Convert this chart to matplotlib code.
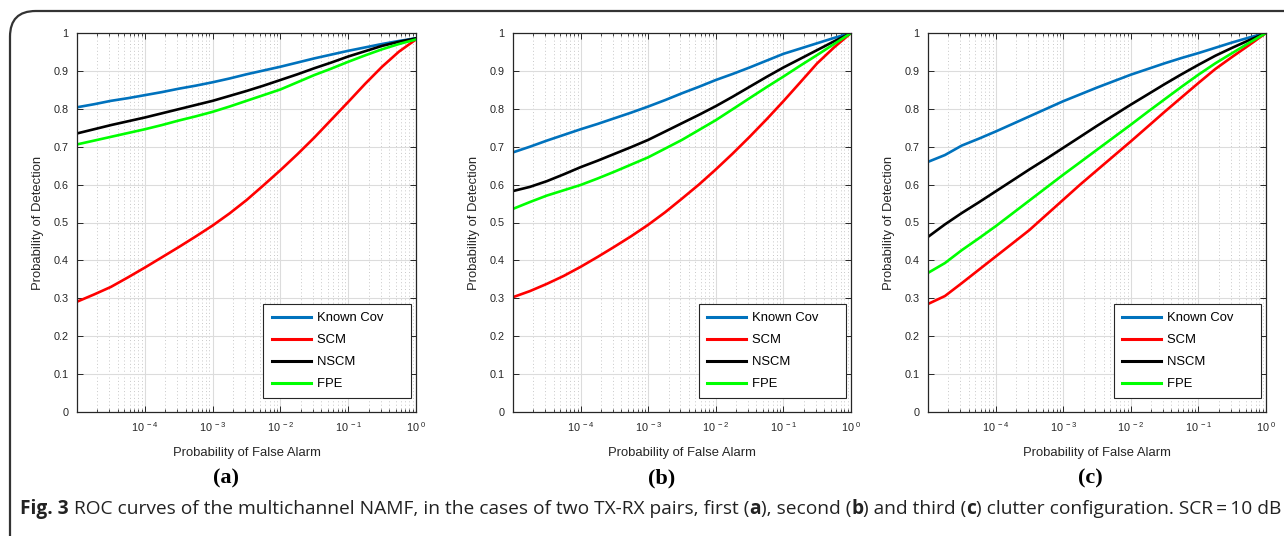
import matplotlib
matplotlib.use("Agg")
import matplotlib.pyplot as plt
from matplotlib.patches import FancyBboxPatch
from matplotlib.ticker import FixedLocator, LogLocator, NullFormatter

# false alarm probabilities (quarter-decade steps from 1e-5 to 1)
pfa = [1e-5, 1.78e-5, 3.16e-5, 5.62e-5,
       1e-4, 1.78e-4, 3.16e-4, 5.62e-4,
       1e-3, 1.78e-3, 3.16e-3, 5.62e-3,
       1e-2, 1.78e-2, 3.16e-2, 5.62e-2,
       1e-1, 1.78e-1, 3.16e-1, 5.62e-1,
       1.0]

# (a) first clutter configuration
known_a = [0.804, 0.812, 0.821, 0.828, 0.836, 0.844, 0.853, 0.861, 0.870, 0.880, 0.891,
           0.901, 0.911, 0.922, 0.933, 0.943, 0.953, 0.962, 0.971, 0.979, 0.986]
scm_a = [0.291, 0.310, 0.330, 0.355, 0.381, 0.408, 0.435, 0.463, 0.492, 0.524, 0.559,
         0.598, 0.638, 0.680, 0.724, 0.771, 0.818, 0.866, 0.911, 0.951, 0.983]
nscm_a = [0.735, 0.746, 0.757, 0.767, 0.777, 0.788, 0.799, 0.810, 0.821, 0.834, 0.847,
          0.861, 0.876, 0.891, 0.907, 0.922, 0.938, 0.952, 0.966, 0.977, 0.986]
fpe_a = [0.706, 0.716, 0.726, 0.736, 0.746, 0.757, 0.769, 0.780, 0.792, 0.806, 0.821,
         0.836, 0.851, 0.870, 0.889, 0.906, 0.924, 0.941, 0.957, 0.971, 0.983]

# (b) second clutter configuration
known_b = [0.685, 0.700, 0.716, 0.731, 0.746, 0.760, 0.775, 0.790, 0.806, 0.823, 0.841,
           0.858, 0.876, 0.892, 0.909, 0.927, 0.945, 0.959, 0.973, 0.987, 1.0]
scm_b = [0.303, 0.319, 0.338, 0.359, 0.383, 0.409, 0.436, 0.464, 0.494, 0.527, 0.563,
         0.600, 0.640, 0.682, 0.726, 0.772, 0.820, 0.870, 0.920, 0.962, 1.0]
nscm_b = [0.583, 0.594, 0.609, 0.627, 0.646, 0.663, 0.681, 0.699, 0.718, 0.740, 0.762,
          0.784, 0.807, 0.832, 0.858, 0.884, 0.909, 0.932, 0.955, 0.978, 1.0]
fpe_b = [0.536, 0.554, 0.571, 0.585, 0.599, 0.616, 0.634, 0.653, 0.672, 0.695, 0.718,
         0.744, 0.770, 0.799, 0.828, 0.857, 0.885, 0.914, 0.942, 0.971, 1.0]

# (c) third clutter configuration
known_c = [0.660, 0.678, 0.703, 0.721, 0.740, 0.760, 0.780, 0.800, 0.820, 0.838, 0.856,
           0.873, 0.890, 0.905, 0.920, 0.934, 0.947, 0.961, 0.975, 0.988, 1.0]
scm_c = [0.285, 0.306, 0.340, 0.375, 0.410, 0.445, 0.480, 0.520, 0.560, 0.600, 0.638,
         0.676, 0.714, 0.753, 0.792, 0.830, 0.868, 0.905, 0.937, 0.968, 1.0]
nscm_c = [0.462, 0.495, 0.525, 0.553, 0.582, 0.611, 0.640, 0.668, 0.697, 0.726, 0.755,
          0.783, 0.811, 0.838, 0.865, 0.891, 0.916, 0.940, 0.961, 0.981, 1.0]
fpe_c = [0.367, 0.393, 0.427, 0.458, 0.490, 0.524, 0.558, 0.592, 0.626, 0.659, 0.692,
         0.725, 0.758, 0.792, 0.825, 0.858, 0.890, 0.920, 0.947, 0.974, 1.0]

series_names = ["Known Cov", "SCM", "NSCM", "FPE"]
series_colors = ["#0072bd", "#ff0000", "#000000", "#00ff00"]
panel_tags = ["(a)", "(b)", "(c)"]

x_ticks = [1e-4, 1e-3, 1e-2, 1e-1, 1e0]
x_tick_labels = [r"$10^{\ -4}$", r"$10^{\ -3}$", r"$10^{\ -2}$", r"$10^{\ -1}$", r"$10^{\ 0}$"]
y_ticks = [0, 0.1, 0.2, 0.3, 0.4, 0.5, 0.6, 0.7, 0.8, 0.9, 1.0]
y_tick_labels = ["0", "0.1", "0.2", "0.3", "0.4", "0.5", "0.6", "0.7", "0.8", "0.9", "1"]

# caption pieces: (text, bold)
caption_parts = [
    ("Fig. 3", True),
    (" ROC curves of the multichannel NAMF, in the cases of two TX-RX pairs, first (", False),
    ("a", True),
    ("), second (", False),
    ("b", True),
    (") and third (", False),
    ("c", True),
    (") clutter configuration. SCR\u2009=\u200910 dB", False),
]

W, H = 1284, 536
AX_COLOR = "#262626"
LABEL_SIZE = 9.4


def px_rect(left, top, right, bottom):
    return [left / W, 1 - bottom / H, (right - left) / W, (bottom - top) / H]


def draw_panel(ax, curves):
    for vals, name, color in zip(curves, series_names, series_colors):
        # trailing spaces leave the roomy right margin of the legend box
        ax.plot(pfa, vals, color=color, lw=1.9, label=name + "\u2003\u2002")

    ax.set_xscale("log")
    ax.set_xlim(1e-5, 1)
    ax.set_ylim(0, 1)
    ax.xaxis.set_major_locator(FixedLocator(x_ticks))
    ax.set_xticklabels(x_tick_labels)
    ax.xaxis.set_minor_locator(LogLocator(base=10, subs=range(2, 10), numticks=20))
    ax.xaxis.set_minor_formatter(NullFormatter())
    ax.set_yticks(y_ticks)
    ax.set_yticklabels(y_tick_labels)

    ax.grid(True, which="major", color="#dcdcdc", lw=0.8, ls="-")
    ax.grid(True, which="minor", axis="x", color="#c8c8c8", lw=0.7, ls=(0, (1, 2.5)))
    ax.set_axisbelow(True)

    ax.tick_params(which="both", direction="in", top=True, right=True,
                   colors=AX_COLOR, labelsize=7.8, labelcolor=AX_COLOR)
    ax.tick_params(which="major", length=4, width=0.7)
    ax.tick_params(which="minor", length=2.3, width=0.6)
    ax.tick_params(axis="x", pad=6)
    ax.tick_params(axis="y", pad=6)
    for sp in ax.spines.values():
        sp.set_color(AX_COLOR)
        sp.set_linewidth(0.9)

    ax.set_xlabel("Probability of False Alarm", fontsize=LABEL_SIZE, color=AX_COLOR, labelpad=9)
    ax.set_ylabel("Probability of Detection", fontsize=LABEL_SIZE, color=AX_COLOR, labelpad=7)

    leg = ax.legend(loc="lower right", bbox_to_anchor=(0.986, 0.036), fontsize=LABEL_SIZE,
                    handlelength=3.0, labelspacing=0.75, handletextpad=0.5,
                    borderpad=0.62, borderaxespad=0, fancybox=False, framealpha=1)
    leg.get_frame().set_edgecolor(AX_COLOR)
    leg.get_frame().set_linewidth(0.8)
    for line in leg.get_lines():
        line.set_linewidth(2.2)


def draw_caption(fig, x_px, y_px, size):
    fig.canvas.draw()
    renderer = fig.canvas.get_renderer()
    x = x_px
    for text, bold in caption_parts:
        t = fig.text(x / W, 1 - y_px / H, text, family=["Open Sans", "DejaVu Sans"],
                     weight="bold" if bold else "normal", fontsize=size,
                     ha="left", va="center", color="#222222")
        x = t.get_window_extent(renderer).x1


def main():
    plt.rcParams["font.family"] = ["Liberation Sans", "DejaVu Sans"]
    plt.rcParams["mathtext.fontset"] = "custom"
    plt.rcParams["mathtext.rm"] = "Liberation Sans"
    plt.rcParams["mathtext.it"] = "Liberation Sans"
    plt.rcParams["mathtext.default"] = "regular"

    fig = plt.figure(figsize=(W / 100, H / 100), dpi=100)

    frame = FancyBboxPatch((10 / W, -0.1), 1.2, 1 - 11 / H + 0.1,
                           boxstyle="round,pad=0,rounding_size=0.02",
                           transform=fig.transFigure, fill=False,
                           edgecolor="#333333", lw=1.6, mutation_aspect=W / H)
    fig.patches.append(frame)

    panels = [
        (px_rect(77, 33, 416, 412), [known_a, scm_a, nscm_a, fpe_a]),
        (px_rect(513, 33, 851, 412), [known_b, scm_b, nscm_b, fpe_b]),
        (px_rect(928, 33, 1266, 412), [known_c, scm_c, nscm_c, fpe_c]),
    ]
    tag_x = [226, 662, 1090]
    for (rect, curves), tag, tx in zip(panels, panel_tags, tag_x):
        ax = fig.add_axes(rect)
        draw_panel(ax, curves)
        fig.text(tx / W, 1 - 478 / H, tag, family="Liberation Serif", weight="bold",
                 fontsize=16, ha="center", va="center")

    draw_caption(fig, 20, 509, 13.8)

    fig.savefig("out.png", dpi=100)


if __name__ == "__main__":
    main()
